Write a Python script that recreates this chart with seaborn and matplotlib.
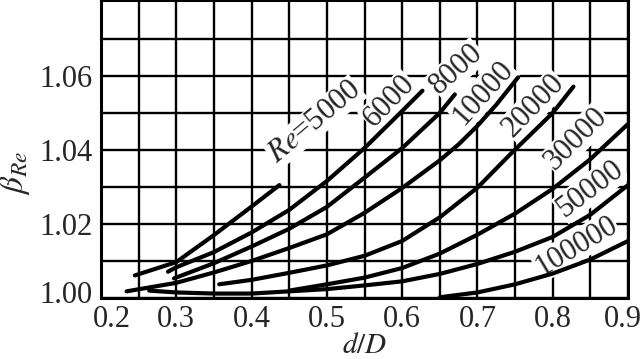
import numpy as np
import pandas as pd
import matplotlib
matplotlib.use("Agg")
import matplotlib.pyplot as plt
import matplotlib.transforms as mtransforms
import seaborn as sns

# curves: d/D and beta_Re for each Reynolds number
d_5000 = [0.245, 0.30, 0.35, 0.40, 0.437]
b_5000 = [1.0061, 1.0097, 1.0170, 1.0247, 1.0305]

d_6000 = [0.289, 0.30, 0.35, 0.40, 0.45, 0.50, 0.55, 0.60, 0.627]
b_6000 = [1.0071, 1.0083, 1.0124, 1.0177, 1.0238, 1.0316, 1.0405, 1.0505, 1.0560]

d_8000 = [0.297, 0.35, 0.40, 0.45, 0.50, 0.55, 0.60, 0.65, 0.67]
b_8000 = [1.0053, 1.0094, 1.0139, 1.0187, 1.0246, 1.0325, 1.0405, 1.0500, 1.0550]

d_10000 = [0.234, 0.30, 0.35, 0.40, 0.45, 0.50, 0.55, 0.60, 0.65, 0.675, 0.70, 0.725, 0.754]
b_10000 = [1.0018, 1.0041, 1.0069, 1.0100, 1.0135, 1.0172, 1.0230, 1.0297, 1.0372, 1.0415,
           1.0465, 1.0522, 1.0596]

d_20000 = [0.357, 0.40, 0.45, 0.50, 0.55, 0.60, 0.65, 0.70, 0.743, 0.80, 0.8275]
b_20000 = [1.0037, 1.0049, 1.0068, 1.0088, 1.0114, 1.0154, 1.0218, 1.0298, 1.0387, 1.0500, 1.0571]

d_30000 = [0.45, 0.50, 0.55, 0.60, 0.65, 0.70, 0.75, 0.80, 0.85, 0.90]
b_30000 = [1.0020, 1.0037, 1.0055, 1.0081, 1.0120, 1.0171, 1.0228, 1.0295, 1.0375, 1.0470]

d_50000 = [0.264, 0.30, 0.35, 0.40, 0.45, 0.50, 0.55, 0.60, 0.65, 0.70, 0.75, 0.80, 0.85, 0.90]
b_50000 = [1.0020, 1.0015, 1.0012, 1.0012, 1.0018, 1.0024, 1.0034, 1.0045, 1.0065, 1.0092,
           1.0125, 1.0165, 1.0225, 1.0305]

d_100000 = [0.65, 0.70, 0.75, 0.80, 0.85, 0.90]
b_100000 = [1.0002, 1.0015, 1.0037, 1.0066, 1.0104, 1.0154]

re_values = [5000, 6000, 8000, 10000, 20000, 30000, 50000, 100000]
curves_d = [d_5000, d_6000, d_8000, d_10000, d_20000, d_30000, d_50000, d_100000]
curves_b = [b_5000, b_6000, b_8000, b_10000, b_20000, b_30000, b_50000, b_100000]

# curve labels
label_text = [r'$Re$=5000', '6000', '8000', '10000', '20000', '30000', '50000', '100000']
label_x = [0.484, 0.583, 0.6725, 0.708, 0.7745, 0.831, 0.85, 0.831]
label_y = [1.0476, 1.0532, 1.0619, 1.0554, 1.0519, 1.0429, 1.0294, 1.0140]
label_rot = [40, 46, 42, 48, 46, 45, 37, 31]

x_ticks = [0.2, 0.3, 0.4, 0.5, 0.6, 0.7, 0.8, 0.9]
y_ticks = [1.00, 1.02, 1.04, 1.06]

df = pd.concat([pd.DataFrame({'d': d, 'beta': b, 'Re': re})
                for d, b, re in zip(curves_d, curves_b, re_values)],
               ignore_index=True)

sns.set_style("white")
plt.rcParams['font.family'] = ['Liberation Serif', 'DejaVu Serif']
plt.rcParams['mathtext.fontset'] = 'stix'

fig = plt.figure(figsize=(6.44, 3.59), dpi=100)
ax = fig.add_axes([101/644, 61/359, 527/644, 298/359])

sns.lineplot(data=df, x='d', y='beta', hue='Re', units='Re', estimator=None,
             sort=False, palette=['black'] * len(re_values), legend=False,
             linewidth=3.0, ax=ax, zorder=3)

ax.set_xlim(0.2, 0.9)
ax.set_ylim(1.0, 1.0805)
ax.set_xticks(x_ticks)
ax.set_xticks(np.arange(0.25, 0.9, 0.1), minor=True)
ax.set_yticks(y_ticks)
ax.set_yticks(np.arange(1.01, 1.08, 0.02), minor=True)
ax.set_xticklabels(['%.1f' % v for v in x_ticks])
ax.set_yticklabels(['%.2f' % v for v in y_ticks])
ax.grid(True, which='both', color='black', linewidth=1.7)
ax.set_axisbelow(True)
for s in ax.spines.values():
    s.set_color('black')
    s.set_linewidth(2.2)

ax.tick_params(axis='y', which='major', direction='out', length=5, width=1.7,
               color='black', labelsize=22, pad=1)
ax.tick_params(axis='x', which='major', length=0, labelsize=22, pad=5)
ax.tick_params(which='minor', length=0)

# nudge end labels like the original figure
xl = ax.get_xticklabels()
xl[0].set_transform(xl[0].get_transform() + mtransforms.ScaledTranslation(8/72, 0, fig.dpi_scale_trans))
xl[-1].set_transform(xl[-1].get_transform() + mtransforms.ScaledTranslation(-4/72, 0, fig.dpi_scale_trans))
yl = ax.get_yticklabels()
yl[0].set_transform(yl[0].get_transform() + mtransforms.ScaledTranslation(0, 4/72, fig.dpi_scale_trans))

ax.set_xlabel(r'$d/D$', fontsize=21, labelpad=-1)
ax.set_ylabel(r'$\beta_{Re}$', fontsize=24)
ax.yaxis.set_label_coords(-0.13, 0.42)

# labels sit over the grid (white patch) but under the curves
for t, x, y, r in zip(label_text, label_x, label_y, label_rot):
    ax.text(x, y, t, rotation=r, rotation_mode='anchor', ha='center', va='center',
            fontsize=22, zorder=2,
            bbox=dict(facecolor='white', edgecolor='none', pad=0.5))

fig.savefig('out.png', dpi=100)
